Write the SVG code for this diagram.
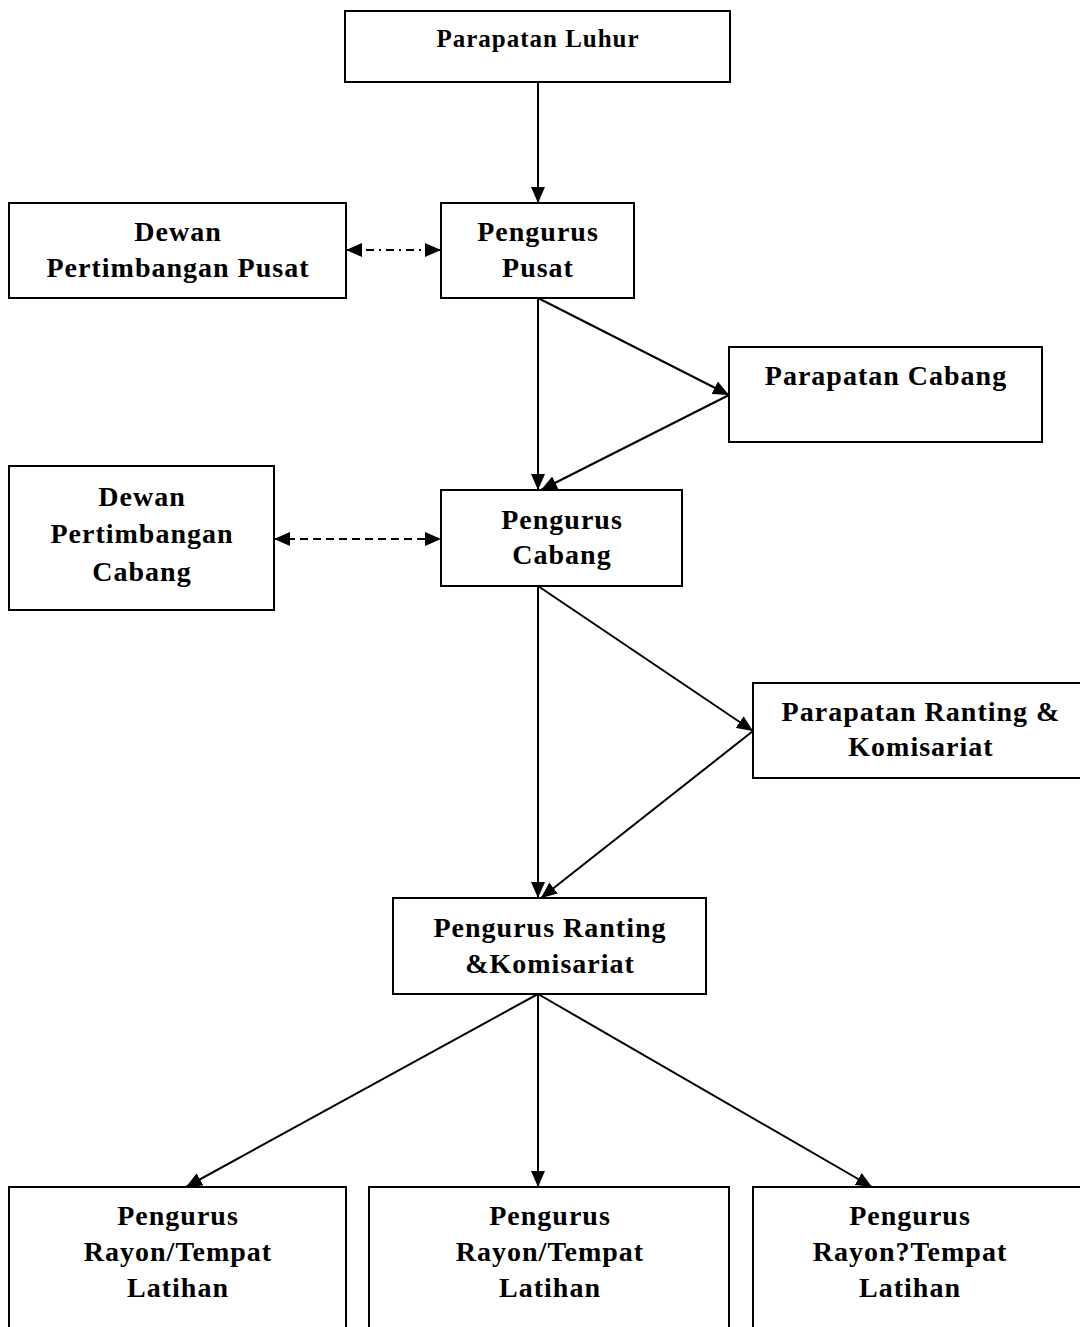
<svg xmlns="http://www.w3.org/2000/svg" width="1080" height="1327" viewBox="0 0 1080 1327">
<style>
.box{fill:#fff;stroke:#000;stroke-width:2}
.t{font-family:"Liberation Serif","Times New Roman",serif;font-weight:bold;font-size:28px;letter-spacing:1px;text-anchor:middle;fill:#000}
.s{font-size:25px}
.c{stroke:#000;stroke-width:2;fill:none}
</style>
<defs>
<marker id="h" viewBox="0 0 16 14" refX="16" refY="7" markerWidth="16" markerHeight="14" markerUnits="userSpaceOnUse" orient="auto-start-reverse">
<path d="M0,0 L16,7 L0,14 Z" fill="#000"/>
</marker>
</defs>
<g id="connectors">
<line class="c" x1="538" y1="82" x2="538" y2="203" marker-end="url(#h)"/>
<line class="c" x1="346" y1="250" x2="441" y2="250" stroke-dasharray="8,5,2,5" marker-start="url(#h)" marker-end="url(#h)"/>
<line class="c" x1="538" y1="298" x2="538" y2="490" marker-end="url(#h)"/>
<line class="c" x1="538" y1="298" x2="729" y2="395" marker-end="url(#h)"/>
<line class="c" x1="729" y1="395" x2="541" y2="490" marker-end="url(#h)"/>
<line class="c" x1="274" y1="539" x2="441" y2="539" stroke-dasharray="8,5" marker-start="url(#h)" marker-end="url(#h)"/>
<line class="c" x1="538" y1="586" x2="538" y2="898" marker-end="url(#h)"/>
<line class="c" x1="538" y1="586" x2="753" y2="731" marker-end="url(#h)"/>
<line class="c" x1="753" y1="731" x2="541" y2="898" marker-end="url(#h)"/>
<line class="c" x1="538" y1="994" x2="186" y2="1187" marker-end="url(#h)"/>
<line class="c" x1="538" y1="994" x2="538" y2="1187" marker-end="url(#h)"/>
<line class="c" x1="538" y1="994" x2="872" y2="1187" marker-end="url(#h)"/>
</g>
<g id="parapatan-luhur"><rect class="box" x="345" y="11" width="385" height="71"/><text class="t s" x="538" y="47">Parapatan Luhur</text></g>
<g id="dewan-pusat"><rect class="box" x="9" y="203" width="337" height="95"/><text class="t" x="178" y="241">Dewan</text><text class="t" x="178" y="277">Pertimbangan Pusat</text></g>
<g id="pengurus-pusat"><rect class="box" x="441" y="203" width="193" height="95"/><text class="t" x="538" y="241">Pengurus</text><text class="t" x="538" y="277">Pusat</text></g>
<g id="parapatan-cabang"><rect class="box" x="729" y="347" width="313" height="95"/><text class="t" x="886" y="385">Parapatan Cabang</text></g>
<g id="dewan-cabang"><rect class="box" x="9" y="466" width="265" height="144"/><text class="t" x="142" y="506">Dewan</text><text class="t" x="142" y="543">Pertimbangan</text><text class="t" x="142" y="581">Cabang</text></g>
<g id="pengurus-cabang"><rect class="box" x="441" y="490" width="241" height="96"/><text class="t" x="562" y="529">Pengurus</text><text class="t" x="562" y="564">Cabang</text></g>
<g id="parapatan-ranting"><rect class="box" x="753" y="683" width="330" height="95"/><text class="t" x="921" y="721">Parapatan Ranting &amp;</text><text class="t" x="921" y="756">Komisariat</text></g>
<g id="pengurus-ranting"><rect class="box" x="393" y="898" width="313" height="96"/><text class="t" x="550" y="937">Pengurus Ranting</text><text class="t" x="550" y="973">&amp;Komisariat</text></g>
<g id="rayon-1"><rect class="box" x="9" y="1187" width="337" height="150"/><text class="t" x="178" y="1225">Pengurus</text><text class="t" x="178" y="1261">Rayon/Tempat</text><text class="t" x="178" y="1297">Latihan</text></g>
<g id="rayon-2"><rect class="box" x="369" y="1187" width="360" height="150"/><text class="t" x="550" y="1225">Pengurus</text><text class="t" x="550" y="1261">Rayon/Tempat</text><text class="t" x="550" y="1297">Latihan</text></g>
<g id="rayon-3"><rect class="box" x="753" y="1187" width="330" height="150"/><text class="t" x="910" y="1225">Pengurus</text><text class="t" x="910" y="1261">Rayon?Tempat</text><text class="t" x="910" y="1297">Latihan</text></g>
</svg>
